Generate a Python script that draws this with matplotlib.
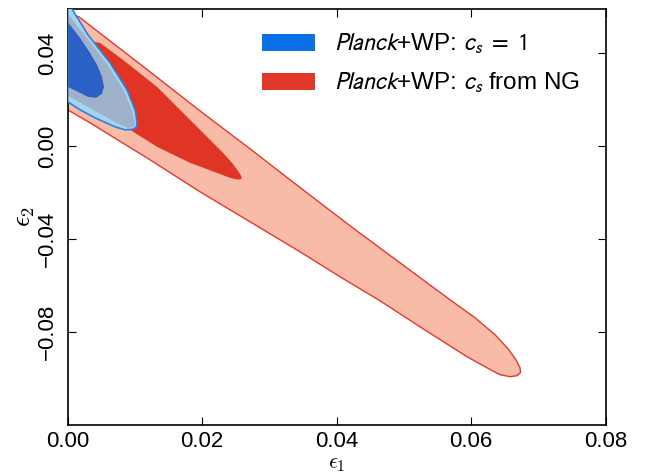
import matplotlib
matplotlib.use("Agg")
import matplotlib.pyplot as plt
from matplotlib.patches import Patch
from matplotlib.font_manager import FontProperties


# contour outlines, in data units (eps1, eps2)
ng95_x = [0.0, 0.00168, 0.01224, 0.01967, 0.02711, 0.03306, 0.04198, 0.04941,
          0.05685, 0.06057, 0.06354, 0.06547, 0.06666, 0.06726, 0.06733, 0.06681,
          0.06577, 0.06428, 0.06354, 0.05938, 0.05283, 0.04644, 0.04049, 0.03454,
          0.02711, 0.01967, 0.01224, 0.00332, 0.0]
ng95_y = [0.0573, 0.0556, 0.03196, 0.01518, -0.00116, -0.01449, -0.03428, -0.05019,
          -0.06611, -0.07385, -0.08116, -0.08718, -0.09191, -0.09535, -0.09750, -0.09879,
          -0.09922, -0.09836, -0.09728, -0.09062, -0.07858, -0.06654, -0.05621, -0.04546,
          -0.03256, -0.01966, -0.00589, 0.01002, 0.01561]

ng68_x = [0.0, 0.0048, 0.00822, 0.01328, 0.01819, 0.02309, 0.02443, 0.02532,
          0.02577, 0.02592, 0.02562, 0.02503, 0.02413, 0.01819, 0.01328, 0.00926,
          0.0048, 0.0]
ng68_y = [0.04658, 0.04443, 0.03712, 0.02551, 0.01131, -0.00288, -0.00718, -0.01062,
          -0.01277, -0.01385, -0.01436, -0.01428, -0.01363, -0.00718, -0.0003, 0.00701,
          0.01217, 0.02080]

cs1_95_x = [0.0, 0.00302, 0.00629, 0.00882, 0.01001, 0.01031, 0.01023, 0.00971,
            0.00852, 0.00703, 0.00406, 0.00183, 0.0]
cs1_95_y = [0.0620, 0.04787, 0.03583, 0.02421, 0.01561, 0.01045, 0.0083, 0.00723,
            0.00701, 0.0083, 0.01217, 0.01561, 0.01905]

# part of the 95% region that sits over the red contours
cs1_over_x = [0.0, 0.00272, 0.00584, 0.00837, 0.00956, 0.01001, 0.00986, 0.00897,
              0.00748, 0.00406, 0.0]
cs1_over_y = [0.0569, 0.04701, 0.0354, 0.02378, 0.01518, 0.01045, 0.0083, 0.00787,
              0.00959, 0.01518, 0.02163]

cs1_68_x = [0.0, 0.00183, 0.00332, 0.00436, 0.0051, 0.0054, 0.0051, 0.00421,
            0.00302, 0.00153, 0.0]
cs1_68_y = [0.05346, 0.04658, 0.04013, 0.03497, 0.02981, 0.02551, 0.02249, 0.02077,
            0.0212, 0.02335, 0.02551]

x_ticks = [0.0, 0.02, 0.04, 0.06, 0.08]
y_ticks = [0.04, 0.0, -0.04, -0.08]
labels = [r"$\mathit{Planck}$+WP: $c_s\ =\ 1$", r"$\mathit{Planck}$+WP: $c_s$ from NG"]


def main():
    fig = plt.figure(figsize=(6.48, 4.74), dpi=100)
    ax = fig.add_axes([0.1045, 0.1034, 0.8302, 0.8776])

    ax.fill(ng95_x, ng95_y, facecolor="#f7bba7", edgecolor="#e3392b", lw=1.0, zorder=1)
    ax.fill(ng68_x, ng68_y, facecolor="#e03424", edgecolor="none", zorder=2)
    ax.fill(cs1_95_x, cs1_95_y, facecolor="#a5d4ee", edgecolor="none", zorder=3)
    ax.fill(cs1_over_x, cs1_over_y, facecolor="#9db2ca", edgecolor="none", zorder=4)
    ax.fill(cs1_68_x, cs1_68_y, facecolor="#2b61c4", edgecolor="none", zorder=5)
    ax.fill(cs1_95_x, cs1_95_y, fill=False, edgecolor="#2f7fe0", lw=1.2, zorder=6)

    ax.set_xlim(0, 0.08)
    ax.set_ylim(-0.12, 0.059)
    ax.set_xticks(x_ticks)
    ax.set_yticks(y_ticks)
    ax.set_xticklabels([f"{v:.2f}" for v in x_ticks])
    ax.set_yticklabels([f"{v:.2f}".replace("-", "\u2212") for v in y_ticks],
                       rotation=90, va="center")
    ax.tick_params(direction="in", length=6, width=0.8, top=True, right=True,
                   labelsize=16, pad=7)
    ax.tick_params(axis="x", pad=4)
    for lab in ax.get_xticklabels() + ax.get_yticklabels():
        lab.set_family("Liberation Sans")
    for sp in ax.spines.values():
        sp.set_linewidth(1.2)

    ax.set_xlabel(r"$\epsilon_1$", fontsize=16, math_fontfamily="cm", va="bottom")
    ax.xaxis.set_label_coords(0.5, -0.117)
    ax.set_ylabel(r"$\epsilon_2$", fontsize=19, math_fontfamily="cm", labelpad=0)

    handles = [Patch(facecolor="#0a70e6", edgecolor="none"),
               Patch(facecolor="#e0392a", edgecolor="none")]
    prop = FontProperties(family="Liberation Sans", size=17.5, math_fontfamily="stixsans")
    ax.legend(handles, labels, loc="upper left", bbox_to_anchor=(0.361, 0.948),
              frameon=False, prop=prop, borderaxespad=0, borderpad=0,
              handlelength=2.2, handleheight=0.7, handletextpad=0.78,
              labelspacing=0.58)

    fig.savefig("out.png", dpi=100)


if __name__ == "__main__":
    main()
